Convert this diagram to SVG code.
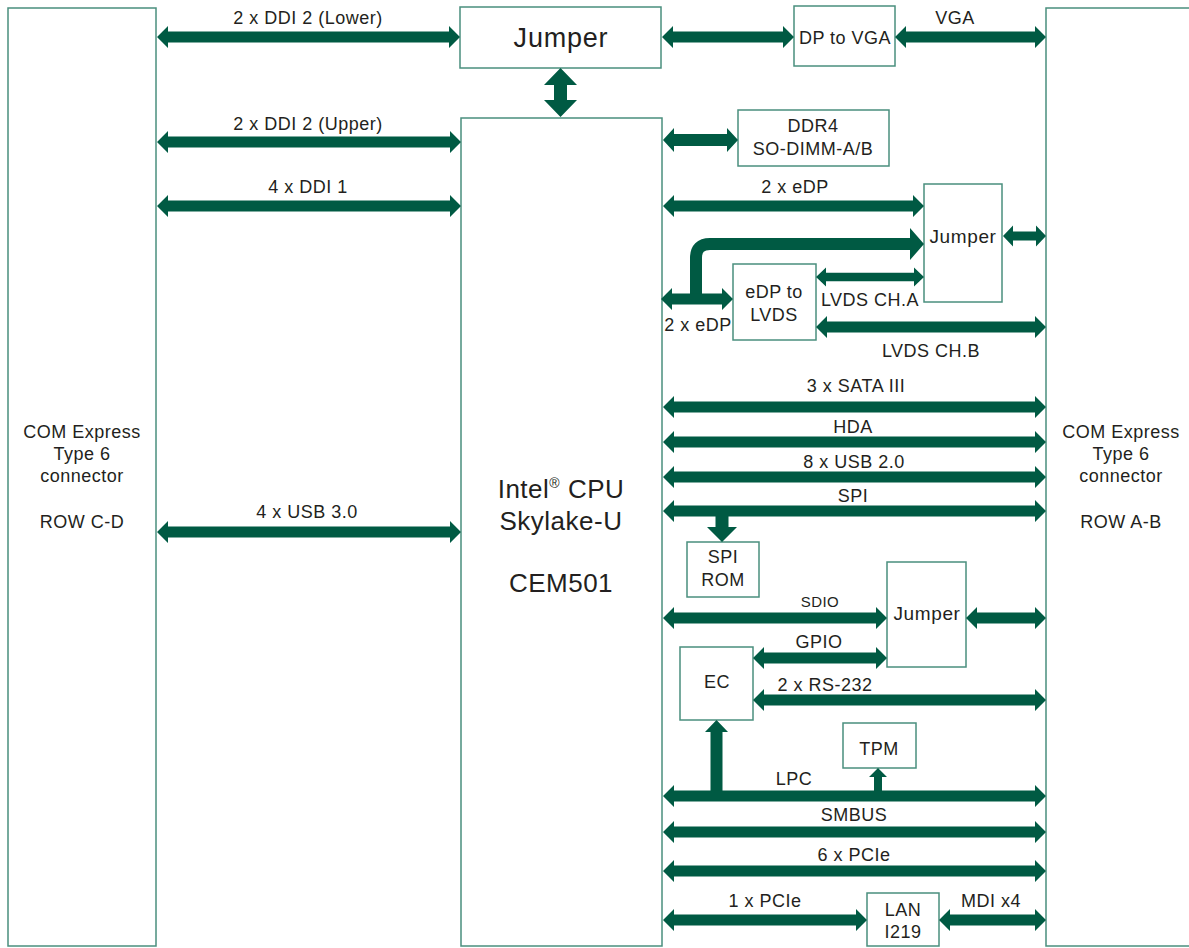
<svg xmlns="http://www.w3.org/2000/svg" width="1189" height="948" viewBox="0 0 1189 948">
<style>
.box{fill:#fff;stroke:#4a8f7e;stroke-width:1.5}
.arr{fill:#005a43}
text{font-family:"Liberation Sans",Arial,sans-serif;fill:#231f20;text-anchor:middle}
.t{font-size:18px;letter-spacing:0.5px}
.s{font-size:15px;letter-spacing:0.4px}
.j{font-size:19px;letter-spacing:0.6px}
.b{font-size:26px;letter-spacing:0.5px}
.bj{font-size:27px;letter-spacing:0.8px}
</style>
<rect width="1189" height="948" fill="#fff"/>
<g id="conn-cd"><rect class="box" x="8" y="8" width="148" height="938"/>
<text class="t" x="82" y="438">COM Express</text><text class="t" x="82" y="460">Type 6</text><text class="t" x="82" y="482">connector</text><text class="t" x="82" y="528">ROW C-D</text></g>
<g id="conn-ab"><rect class="box" x="1046" y="8" width="160" height="938"/>
<text class="t" x="1121" y="438">COM Express</text><text class="t" x="1121" y="460">Type 6</text><text class="t" x="1121" y="482">connector</text><text class="t" x="1121" y="528">ROW A-B</text></g>
<g id="jumper-top"><rect class="box" x="460" y="7" width="201" height="61"/><text class="bj" x="561" y="47">Jumper</text></g>
<g id="cpu"><rect class="box" x="461" y="118" width="201" height="828"/>
<text class="b" x="561" y="498">Intel<tspan font-size="14" dy="-10">®</tspan><tspan dy="10"> CPU</tspan></text>
<text class="b" x="561" y="530">Skylake-U</text><text class="b" x="561" y="592">CEM501</text></g>
<g id="dp2vga"><rect class="box" x="794" y="6" width="101" height="60"/><text class="t" x="845" y="44">DP to VGA</text></g>
<g id="ddr4"><rect class="box" x="738" y="110" width="151" height="56"/><text class="t" x="813" y="132">DDR4</text><text class="t" x="813" y="155">SO-DIMM-A/B</text></g>
<g id="jumper-edp"><rect class="box" x="924" y="184" width="78" height="118"/><text class="j" x="963" y="243">Jumper</text></g>
<g id="edp2lvds"><rect class="box" x="733" y="264" width="83" height="76"/><text class="t" x="774" y="298">eDP to</text><text class="t" x="774" y="321">LVDS</text></g>
<g id="spirom"><rect class="box" x="687" y="542" width="72" height="55"/><text class="t" x="723" y="563">SPI</text><text class="t" x="723" y="586">ROM</text></g>
<g id="jumper-sdio"><rect class="box" x="887" y="562" width="79" height="105"/><text class="j" x="927" y="620">Jumper</text></g>
<g id="ec"><rect class="box" x="680" y="647" width="73" height="73"/><text class="t" x="717" y="688">EC</text></g>
<g id="tpm"><rect class="box" x="843" y="723" width="73" height="45"/><text class="t" x="879" y="755">TPM</text></g>
<g id="lan"><rect class="box" x="867" y="893" width="72" height="53"/><text class="t" x="903" y="916">LAN</text><text class="t" x="903" y="938">I219</text></g>
<g id="connectors">
<path class="arr" d="M157,37 L168,26 V31.5 H449 V26 L460,37 L449,48 V42.5 H168 V48 Z"/>
<path class="arr" d="M662,37 L673,26 V31.5 H783 V26 L794,37 L783,48 V42.5 H673 V48 Z"/>
<path class="arr" d="M895,37 L906,26 V31.5 H1035 V26 L1046,37 L1035,48 V42.5 H906 V48 Z"/>
<path class="arr" d="M560.5,68 L577,85 H567 V100 H577 L560.5,117 L544,100 H554 V85 H544 Z"/>
<path class="arr" d="M157,142 L168,131 V136.5 H450 V131 L461,142 L450,153 V147.5 H168 V153 Z"/>
<path class="arr" d="M663,140 L674,128 V134 H727 V128 L738,140 L727,152 V146 H674 V152 Z"/>
<path class="arr" d="M157,206 L168,195 V200.5 H450 V195 L461,206 L450,217 V211.5 H168 V217 Z"/>
<path class="arr" d="M663,206 L674,195 V200.5 H913 V195 L924,206 L913,217 V211.5 H674 V217 Z"/>
<path class="arr" d="M1003,236 L1013,225.5 V231.5 H1036 V225.5 L1046,236 L1036,246.5 V240.5 H1013 V246.5 Z"/>
<path d="M696,299 V258 Q696,244 710,244 H912" fill="none" stroke="#005a43" stroke-width="12"/>
<path class="arr" d="M910,228 L924,244 L910,260 Z"/>
<path class="arr" d="M816,277 L826,267.5 V272.8 H914 V267.5 L924,277 L914,286.5 V281.2 H826 V286.5 Z"/>
<path class="arr" d="M661,299 L672,288 V293.5 H722 V288 L733,299 L722,310 V304.5 H672 V310 Z"/>
<path class="arr" d="M816,327 L827,316 V321.5 H1035 V316 L1046,327 L1035,338 V332.5 H827 V338 Z"/>
<path class="arr" d="M663,407 L674,396 V401.5 H1035 V396 L1046,407 L1035,418 V412.5 H674 V418 Z"/>
<path class="arr" d="M663,442 L674,431 V436.5 H1035 V431 L1046,442 L1035,453 V447.5 H674 V453 Z"/>
<path class="arr" d="M663,477 L674,466 V471.5 H1035 V466 L1046,477 L1035,488 V482.5 H674 V488 Z"/>
<path class="arr" d="M663,511 L674,500 V505.5 H1035 V500 L1046,511 L1035,522 V516.5 H674 V522 Z"/>
<path class="arr" d="M715.5,516 H728.5 V527 H737 L722,542 L707,527 H715.5 Z"/>
<path class="arr" d="M157,532 L168,521 V526.5 H450 V521 L461,532 L450,543 V537.5 H168 V543 Z"/>
<path class="arr" d="M663,618 L674,607 V612.5 H876 V607 L887,618 L876,629 V623.5 H674 V629 Z"/>
<path class="arr" d="M966,618 L977,607 V612.5 H1035 V607 L1046,618 L1035,629 V623.5 H977 V629 Z"/>
<path class="arr" d="M753,658 L764,647 V652.5 H876 V647 L887,658 L876,669 V663.5 H764 V669 Z"/>
<path class="arr" d="M753,700 L764,689 V694.5 H1035 V689 L1046,700 L1035,711 V705.5 H764 V711 Z"/>
<path class="arr" d="M716.5,720 L728,732 H722.5 V796 H710.5 V732 H705 Z"/>
<path class="arr" d="M878,768 L887,777 H882 V796 H874 V777 H869 Z"/>
<path class="arr" d="M663,796 L674,785 V790.5 H1035 V785 L1046,796 L1035,807 V801.5 H674 V807 Z"/>
<path class="arr" d="M663,832 L674,821 V826.5 H1035 V821 L1046,832 L1035,843 V837.5 H674 V843 Z"/>
<path class="arr" d="M663,871 L674,860 V865.5 H1035 V860 L1046,871 L1035,882 V876.5 H674 V882 Z"/>
<path class="arr" d="M663,920 L674,909 V914.5 H856 V909 L867,920 L856,931 V925.5 H674 V931 Z"/>
<path class="arr" d="M939,920 L950,909 V914.5 H1035 V909 L1046,920 L1035,931 V925.5 H950 V931 Z"/>
</g>
<g id="labels">
<text class="t" x="308" y="24">2 x DDI 2 (Lower)</text>
<text class="t" x="308" y="130">2 x DDI 2 (Upper)</text>
<text class="t" x="308" y="193">4 x DDI 1</text>
<text class="t" x="307" y="518">4 x USB 3.0</text>
<text class="t" x="955" y="24">VGA</text>
<text class="t" x="795" y="193">2 x eDP</text>
<text class="t" x="870" y="306">LVDS CH.A</text>
<text class="t" x="698" y="331">2 x eDP</text>
<text class="t" x="931" y="357">LVDS CH.B</text>
<text class="t" x="856" y="392">3 x SATA III</text>
<text class="t" x="853" y="433">HDA</text>
<text class="t" x="854" y="468">8 x USB 2.0</text>
<text class="t" x="853" y="502">SPI</text>
<text class="s" x="820" y="607">SDIO</text>
<text class="t" x="819" y="648">GPIO</text>
<text class="t" x="825" y="691">2 x RS-232</text>
<text class="t" x="794" y="785">LPC</text>
<text class="t" x="854" y="821">SMBUS</text>
<text class="t" x="854" y="861">6 x PCIe</text>
<text class="t" x="765" y="907">1 x PCIe</text>
<text class="t" x="991" y="907">MDI x4</text>
</g>
</svg>
